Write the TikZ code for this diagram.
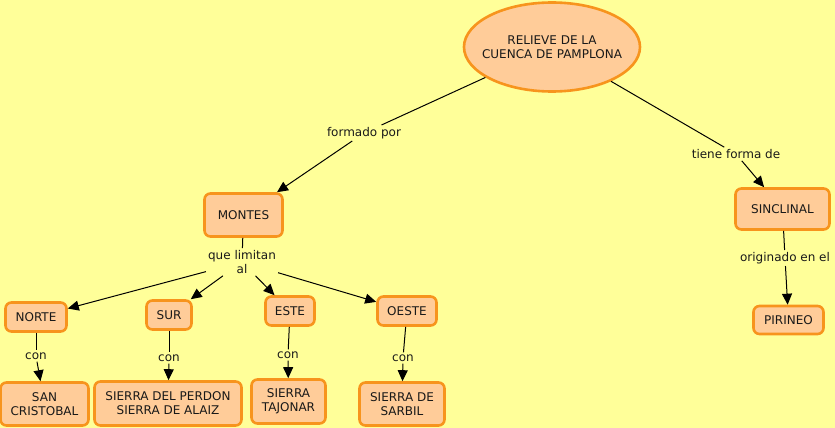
\documentclass[tikz,border=0pt]{standalone}
\usepackage{fontspec}
\setmainfont{DejaVu Sans}
\usetikzlibrary{arrows.meta,shapes.geometric}
\definecolor{bg}{RGB}{255,255,153}
\definecolor{boxfill}{RGB}{255,204,153}
\definecolor{boxline}{RGB}{247,148,29}
\tikzset{
  concept/.style={draw=boxline, line width=2.6pt, fill=boxfill, rounded corners=6pt,
    align=center, inner sep=2pt, font=\fontsize{12}{14}\selectfont, text=black!90},
  oval/.style={ellipse, draw=boxline, line width=2.6pt, fill=boxfill, inner sep=0pt},
  lbl/.style={align=center, inner sep=2pt, font=\fontsize{12}{14}\selectfont, text=black!90},
  conn/.style={line width=1pt, black},
  arr/.style={conn, -{Triangle[length=11pt,width=10pt]}},
}
\begin{document}
\begin{tikzpicture}[x=1pt,y=-1pt]
\fill[bg] (0,0) rectangle (835,428);
\useasboundingbox (0,0) rectangle (835,428);

\node[oval, minimum width=176pt, minimum height=89pt] (rel) at (552,47) {};
\node[lbl] (reltext) at (rel.center) {RELIEVE DE LA\\CUENCA DE PAMPLONA};
\node[concept, minimum width=78pt, minimum height=43pt] (mon) at (243.5,215) {MONTES};
\node[concept, minimum width=94pt, minimum height=41pt] (sin) at (782.5,209) {SINCLINAL};
\node[concept, minimum width=70pt, minimum height=28pt] (pir) at (788.5,320) {PIRINEO};
\node[concept, minimum width=61pt, minimum height=29pt] (nor) at (36,317) {NORTE};
\node[concept, minimum width=45pt, minimum height=29pt] (sur) at (169,315) {SUR};
\node[concept, minimum width=49pt, minimum height=29pt] (est) at (290,311) {ESTE};
\node[concept, minimum width=59pt, minimum height=29pt] (oes) at (407,311) {OESTE};
\node[concept, minimum width=88pt, minimum height=43pt] (san) at (44.5,404) {SAN\\CRISTOBAL};
\node[concept, minimum width=147pt, minimum height=44pt] (per) at (168,403.5) {SIERRA DEL PERDON\\SIERRA DE ALAIZ};
\node[concept, minimum width=74pt, minimum height=44pt] (taj) at (288.5,401.5) {SIERRA\\TAJONAR};
\node[concept, minimum width=85pt, minimum height=43pt] (sar) at (402,404) {SIERRA DE\\SARBIL};

\node[lbl] (lform) at (364,133) {formado por};
\node[lbl] (ltiene) at (736,154) {tiene forma de};
\node[lbl] (llim) at (242,262) {que limitan\\al};
\node[lbl] (lorig) at (785,258) {originado en el};
\node[lbl] (lc1) at (36,356) {con};
\node[lbl] (lc2) at (169,358) {con};
\node[lbl] (lc3) at (288,355) {con};
\node[lbl] (lc4) at (403,358) {con};

\draw[conn] (rel) -- (lform);
\draw[arr] (lform) -- (mon);
\draw[conn] (rel) -- (ltiene);
\draw[arr] (ltiene) -- (sin);
\draw[conn] (sin) -- (lorig);
\draw[arr] (lorig) -- (pir);
\draw[conn] (mon) -- (llim);
\draw[arr] (llim) -- (nor);
\draw[arr] (llim) -- (sur);
\draw[arr] (llim) -- (est);
\draw[arr] (llim) -- (oes);
\draw[conn] (nor) -- (lc1);
\draw[arr] (lc1) -- (san);
\draw[conn] (sur) -- (lc2);
\draw[arr] (lc2) -- (per);
\draw[conn] (est) -- (lc3);
\draw[arr] (lc3) -- (taj);
\draw[conn] (oes) -- (lc4);
\draw[arr] (lc4) -- (sar);
\end{tikzpicture}
\end{document}
